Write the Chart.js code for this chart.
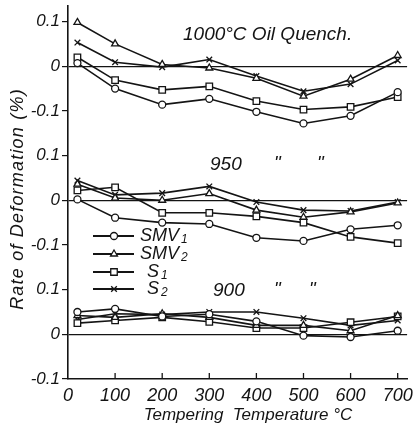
<!DOCTYPE html>
<html>
<head>
<meta charset="utf-8">
<script src="https://cdn.jsdelivr.net/npm/chart.js@4.4.1/dist/chart.umd.min.js"></script>
<style>
  html, body { margin: 0; padding: 0; background: #fff; }
</style>
</head>
<body>
<canvas id="c" width="413" height="434"></canvas>
<script>
// tempering temperatures (first point = as quenched, room temp.)
const temps = [20, 100, 200, 300, 400, 500, 600, 700];
const xTicks = [0, 100, 200, 300, 400, 500, 600, 700];
// one long y axis shared by three panels, each panel shifted by 0.3
const yTicks = [-0.1, 0, 0.1, 0.2, 0.3, 0.4, 0.5, 0.6, 0.7];
const yTickLabels = ['-0.1', '0', '0.1', '-0.1', '0', '0.1', '-0.1', '0', '0.1'];
const panelOffsets = [0.6, 0.3, 0];

// 1000°C oil quench
const q1000_SMV1 = [0.007, -0.050, -0.086, -0.073, -0.102, -0.128, -0.111, -0.058];
const q1000_SMV2 = [0.098, 0.050, 0.004, -0.004, -0.027, -0.067, -0.029, 0.024];
const q1000_S1   = [0.020, -0.031, -0.053, -0.045, -0.078, -0.097, -0.091, -0.069];
const q1000_S2   = [0.053, 0.009, -0.002, 0.015, -0.022, -0.056, -0.040, 0.013];
// 950°C
const q950_SMV1 = [0.002, -0.039, -0.050, -0.053, -0.084, -0.091, -0.065, -0.056];
const q950_SMV2 = [0.036, 0.005, 0.000, 0.015, -0.022, -0.038, -0.026, -0.006];
const q950_S1   = [0.022, 0.029, -0.028, -0.028, -0.036, -0.050, -0.082, -0.096];
const q950_S2   = [0.044, 0.012, 0.016, 0.031, -0.004, -0.022, -0.024, -0.004];
// 900°C
const q900_SMV1 = [0.050, 0.057, 0.040, 0.045, 0.029, -0.003, -0.006, 0.008];
const q900_SMV2 = [0.042, 0.038, 0.046, 0.038, 0.020, 0.020, 0.008, 0.042];
const q900_S1   = [0.025, 0.031, 0.038, 0.028, 0.014, 0.014, 0.027, 0.040];
const q900_S2   = [0.033, 0.046, 0.044, 0.050, 0.050, 0.036, 0.020, 0.031];

const panels = [
    [q1000_SMV1, q1000_SMV2, q1000_S1, q1000_S2],
    [q950_SMV1, q950_SMV2, q950_S1, q950_S2],
    [q900_SMV1, q900_SMV2, q900_S1, q900_S2]
];
const seriesNames = ['SMV', 'SMV', 'S', 'S'];
const seriesSubs = ['1', '2', '1', '2'];
const seriesMarks = ['circle', 'triangle', 'rect', 'crossRot'];
const seriesRadius = [3.5, 4, 4.6, 4];

const ink = '#141414';
const fontFam = "'Liberation Sans', Arial, sans-serif";

const datasets = [];
panels.forEach((panel, p) => {
    panel.forEach((vals, s) => {
        datasets.push({
            label: seriesNames[s] + seriesSubs[s] + ' ' + p,
            data: vals.map((v, i) => ({ x: temps[i], y: v + panelOffsets[p] })),
            borderColor: ink,
            borderWidth: 1.6,
            backgroundColor: '#fff',
            pointStyle: seriesMarks[s],
            pointRadius: seriesRadius[s],
            pointBorderWidth: 1.3,
            pointBorderColor: ink,
            pointBackgroundColor: '#fff',
            tension: 0
        });
    });
});

function sub(ctx, main, subTxt, x, y) {
    ctx.font = 'italic 18px ' + fontFam;
    ctx.fillText(main, x, y);
    const w = ctx.measureText(main).width;
    ctx.font = 'italic 12px ' + fontFam;
    ctx.fillText(subTxt, x + w + 2, y + 4);
}

const annotate = {
    id: 'annotate',
    afterDraw(chart) {
        const ctx = chart.ctx;
        const xs = chart.scales.x;
        const area = chart.chartArea;
        ctx.save();
        ctx.fillStyle = ink;
        ctx.strokeStyle = ink;

        // small inward ticks on the temperature axis
        ctx.lineWidth = 1.3;
        xTicks.slice(1).forEach(v => {
            const px = xs.getPixelForValue(v);
            ctx.beginPath();
            ctx.moveTo(px, area.bottom);
            ctx.lineTo(px, area.bottom - 6);
            ctx.stroke();
        });

        // panel captions
        ctx.textBaseline = 'middle';
        ctx.textAlign = 'left';
        ctx.font = 'italic 19px ' + fontFam;
        ctx.fillText('1000°C Oil Quench.', 183, 35);
        ctx.fillText('950', 210, 165);
        ctx.fillText('"', 274, 164);
        ctx.fillText('"', 317, 164);
        ctx.fillText('900', 213, 291);
        ctx.fillText('"', 274, 290);
        ctx.fillText('"', 309, 290);

        // legend
        const legY = [236, 254, 272, 289];
        const legTx = [140, 140, 147, 147];
        seriesNames.forEach((n, s) => {
            ctx.lineWidth = 2;
            ctx.beginPath();
            ctx.moveTo(93, legY[s]);
            ctx.lineTo(134, legY[s]);
            ctx.stroke();
            ctx.lineWidth = 1.3;
            ctx.fillStyle = '#fff';
            Chart.helpers.drawPoint(ctx, { pointStyle: seriesMarks[s], rotation: 0, radius: seriesRadius[s], borderWidth: 1.3 }, 114, legY[s]);
            ctx.fillStyle = ink;
            sub(ctx, n, seriesSubs[s], legTx[s], legY[s]);
        });

        // axis titles
        ctx.font = 'italic 17px ' + fontFam;
        ctx.textAlign = 'center';
        ctx.fillText('Tempering  Temperature °C', 248, 415);
        ctx.translate(18, 199);
        ctx.rotate(-Math.PI / 2);
        ctx.font = 'italic 18px ' + fontFam;
        ctx.letterSpacing = '1.2px';
        ctx.fillText('Rate of Deformation (%)', 0, 0);
        ctx.restore();
    }
};

new Chart(document.getElementById('c'), {
    type: 'line',
    data: { datasets: datasets },
    options: {
        responsive: false,
        animation: false,
        devicePixelRatio: 1,
        layout: { padding: { left: 0, right: 3, top: 3, bottom: 0 } },
        plugins: { legend: { display: false }, tooltip: { enabled: false } },
        scales: {
            x: {
                type: 'linear',
                min: 0,
                max: 720,
                afterBuildTicks: s => { s.ticks = xTicks.map(v => ({ value: v })); },
                afterFit: s => { s.height = 55; s.paddingLeft = 0; s.paddingRight = 0; },
                grid: { drawOnChartArea: false, drawTicks: false },
                border: { color: ink, width: 1.6 },
                ticks: {
                    color: ink,
                    padding: 6,
                    maxRotation: 0,
                    font: { family: fontFam, size: 18, style: 'italic' }
                }
            },
            y: {
                min: -0.1,
                max: 0.735,
                afterBuildTicks: s => { s.ticks = yTicks.map(v => ({ value: v })); },
                afterFit: s => { s.width = 68; s.paddingTop = 0; s.paddingBottom = 0; },
                grid: {
                    color: c => (c.tick && [0, 0.3, 0.6].includes(c.tick.value)) ? ink : 'rgba(0,0,0,0)',
                    tickColor: ink,
                    tickLength: 6,
                    lineWidth: 1.2
                },
                border: { color: ink, width: 1.6 },
                ticks: {
                    color: ink,
                    padding: 2,
                    callback: (v, i) => yTickLabels[i],
                    font: { family: fontFam, size: 17, style: 'italic' }
                }
            }
        }
    },
    plugins: [annotate]
});
</script>
</body>
</html>
